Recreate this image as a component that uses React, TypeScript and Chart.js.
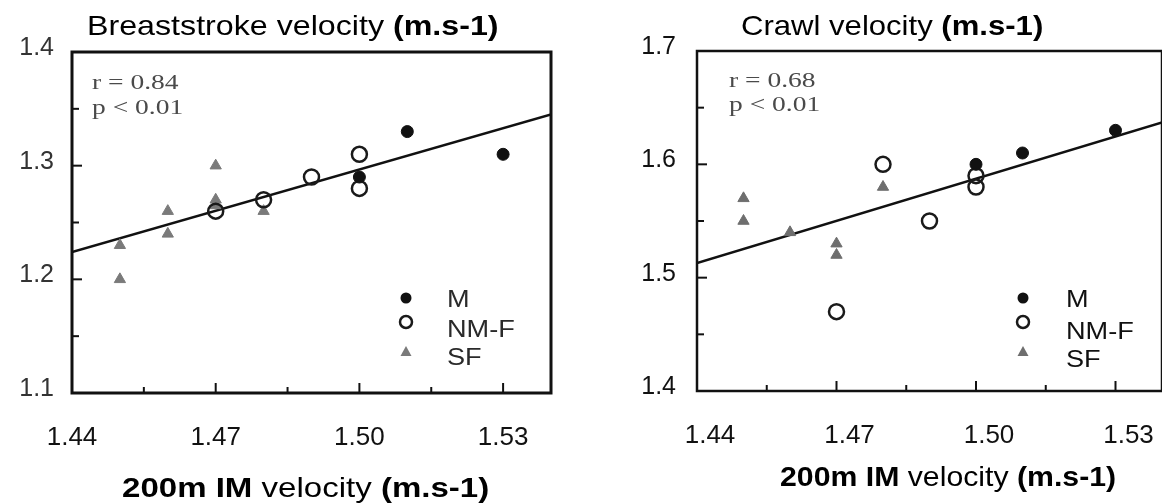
import React, { useEffect, useRef } from "react";
import { Chart, registerables } from "chart.js";

Chart.register(...registerables);

// ---------------- data ----------------
const X_TICKS = [1.44, 1.47, 1.5, 1.53];
const X_MINOR = [1.455, 1.485, 1.515];

// Breaststroke panel
const BR_Y_TICKS = [1.1, 1.2, 1.3, 1.4];
const BR_Y_MINOR = [1.15, 1.25, 1.35];
const BR_M_X = [1.5, 1.51, 1.53];
const BR_M_Y = [1.29, 1.33, 1.31];
const BR_NMF_X = [1.47, 1.48, 1.49, 1.5, 1.5];
const BR_NMF_Y = [1.26, 1.27, 1.29, 1.31, 1.28];
const BR_SF_X = [1.45, 1.45, 1.46, 1.46, 1.47, 1.47, 1.47, 1.48];
const BR_SF_Y = [1.23, 1.2, 1.26, 1.24, 1.3, 1.27, 1.265, 1.26];
const BR_FIT_X = [1.44, 1.54];
const BR_FIT_Y = [1.224, 1.345];
const BR_STATS = ["r = 0.84", "p < 0.01"];

// Crawl panel
const CR_Y_TICKS = [1.4, 1.5, 1.6, 1.7];
const CR_Y_MINOR = [1.45, 1.55, 1.65];
const CR_M_X = [1.5, 1.51, 1.53];
const CR_M_Y = [1.6, 1.61, 1.63];
const CR_NMF_X = [1.47, 1.48, 1.49, 1.5, 1.5];
const CR_NMF_Y = [1.47, 1.6, 1.55, 1.59, 1.58];
const CR_SF_X = [1.45, 1.45, 1.46, 1.47, 1.47, 1.48];
const CR_SF_Y = [1.57, 1.55, 1.54, 1.53, 1.52, 1.58];
const CR_FIT_X = [1.44, 1.54];
const CR_FIT_Y = [1.513, 1.637];
const CR_STATS = ["r = 0.68", "p < 0.01"];

const LEGEND_LABELS = ["M", "NM-F", "SF"];

// ---------------- helpers ----------------
type Part = { t: string; b?: boolean };
const SANS = "'Liberation Sans', Arial, Helvetica, sans-serif";
const SERIF = "'Liberation Serif', 'Times New Roman', serif";

const toPts = (xs: number[], ys: number[]) => xs.map((x, i) => ({ x, y: ys[i] }));

function drawParts(
  ctx: CanvasRenderingContext2D,
  parts: Part[],
  x: number,
  y: number,
  size: number,
  sx: number,
  color: string,
  family: string
) {
  ctx.save();
  ctx.translate(x, y);
  ctx.scale(sx, 1);
  ctx.fillStyle = color;
  ctx.textAlign = "left";
  ctx.textBaseline = "alphabetic";
  let cx = 0;
  for (const p of parts) {
    ctx.font = `${p.b ? "bold " : ""}${size}px ${family}`;
    ctx.fillText(p.t, cx, 0);
    cx += ctx.measureText(p.t).width;
  }
  ctx.restore();
}

interface PanelCfg {
  left: number;
  width: number;
  padTop: number;
  padRight: number;
  yAxisW: number;
  xAxisH: number;
  yTicks: number[];
  yMinor: number[];
  m: [number[], number[]];
  nmf: [number[], number[]];
  sf: [number[], number[]];
  fit: [number[], number[]];
  stats: string[];
  statsX: number;
  statsY: number[];
  title: Part[];
  titleX: number;
  titleY: number;
  titleSx: number;
  xlabel: Part[];
  xlabelX: number;
  xlabelY: number;
  xlabelSx: number;
  legMarkX: number;
  legMarkY: number[];
  legTextX: number;
  legTextY: number[];
  legColor: string;
  yLabelColor: string;
  yPad: number;
  xLabelOffset: number;
  frameW: number;
  sfColor: string;
}

const LEFT: PanelCfg = {
  left: 0,
  width: 580,
  padTop: 52,
  padRight: 29,
  yAxisW: 72,
  xAxisH: 111,
  yTicks: BR_Y_TICKS,
  yMinor: BR_Y_MINOR,
  m: [BR_M_X, BR_M_Y],
  nmf: [BR_NMF_X, BR_NMF_Y],
  sf: [BR_SF_X, BR_SF_Y],
  fit: [BR_FIT_X, BR_FIT_Y],
  stats: BR_STATS,
  statsX: 92,
  statsY: [89, 114],
  title: [{ t: "Breaststroke velocity " }, { t: "(m.s-1)", b: true }],
  titleX: 87,
  titleY: 35,
  titleSx: 1.15,
  xlabel: [{ t: "200m ", b: true }, { t: "IM", b: true }, { t: " velocity " }, { t: "(m.s-1)", b: true }],
  xlabelX: 122,
  xlabelY: 497,
  xlabelSx: 1.18,
  legMarkX: 406,
  legMarkY: [298, 322, 352],
  legTextX: 447,
  legTextY: [307, 337, 365],
  legColor: "#2a2a2a",
  yLabelColor: "#333",
  yPad: 18,
  xLabelOffset: 0,
  frameW: 3,
  sfColor: "#7a7a7a",
};

const RIGHT: PanelCfg = {
  left: 600,
  width: 572,
  padTop: 51,
  padRight: 5,
  yAxisW: 97,
  xAxisH: 113,
  yTicks: CR_Y_TICKS,
  yMinor: CR_Y_MINOR,
  m: [CR_M_X, CR_M_Y],
  nmf: [CR_NMF_X, CR_NMF_Y],
  sf: [CR_SF_X, CR_SF_Y],
  fit: [CR_FIT_X, CR_FIT_Y],
  stats: CR_STATS,
  statsX: 129,
  statsY: [87, 111],
  title: [{ t: "Crawl velocity " }, { t: "(m.s-1)", b: true }],
  titleX: 141,
  titleY: 35,
  titleSx: 1.11,
  xlabel: [{ t: "200m ", b: true }, { t: "IM", b: true }, { t: " velocity " }, { t: "(m.s-1)", b: true }],
  xlabelX: 180,
  xlabelY: 486,
  xlabelSx: 1.08,
  legMarkX: 423,
  legMarkY: [298, 322, 352],
  legTextX: 466,
  legTextY: [307, 339, 367],
  legColor: "#111",
  yLabelColor: "#111",
  yPad: 21,
  xLabelOffset: 13,
  frameW: 2.5,
  sfColor: "#6e6e6e",
};

function Panel({ cfg }: { cfg: PanelCfg }) {
  const ref = useRef<HTMLCanvasElement>(null);

  useEffect(() => {
    const canvas = ref.current;
    if (!canvas) return;

    const decor = {
      id: "decor",
      afterDraw(chart: any) {
        const ctx: CanvasRenderingContext2D = chart.ctx;
        const a = chart.chartArea;
        const xs = chart.scales.x;
        const ys = chart.scales.y;
        ctx.save();
        // frame
        ctx.strokeStyle = "#111";
        ctx.lineWidth = cfg.frameW;
        ctx.strokeRect(a.left, a.top, a.right - a.left, a.bottom - a.top);
        // inward ticks
        ctx.lineWidth = 2;
        const yMaj = cfg.yTicks.slice(1, -1);
        yMaj.forEach((v) => {
          const p = ys.getPixelForValue(v);
          ctx.beginPath();
          ctx.moveTo(a.left, p);
          ctx.lineTo(a.left + 10, p);
          ctx.stroke();
        });
        cfg.yMinor.forEach((v) => {
          const p = ys.getPixelForValue(v);
          ctx.beginPath();
          ctx.moveTo(a.left, p);
          ctx.lineTo(a.left + 7, p);
          ctx.stroke();
        });
        X_TICKS.slice(1).forEach((v) => {
          const p = xs.getPixelForValue(v);
          ctx.beginPath();
          ctx.moveTo(p, a.bottom);
          ctx.lineTo(p, a.bottom - 10);
          ctx.stroke();
        });
        X_MINOR.forEach((v) => {
          const p = xs.getPixelForValue(v);
          ctx.beginPath();
          ctx.moveTo(p, a.bottom);
          ctx.lineTo(p, a.bottom - 6);
          ctx.stroke();
        });
        // stats
        cfg.stats.forEach((s, i) => {
          drawParts(ctx, [{ t: s }], cfg.statsX, cfg.statsY[i], 22, 1.25, "#4a4a4a", SERIF);
        });
        // legend markers
        const mx = cfg.legMarkX;
        ctx.fillStyle = "#111";
        ctx.beginPath();
        ctx.arc(mx, cfg.legMarkY[0], 5.5, 0, Math.PI * 2);
        ctx.fill();
        ctx.strokeStyle = "#1a1a1a";
        ctx.lineWidth = 2.5;
        ctx.beginPath();
        ctx.arc(mx, cfg.legMarkY[1], 6, 0, Math.PI * 2);
        ctx.stroke();
        ctx.fillStyle = cfg.sfColor;
        ctx.beginPath();
        const ty = cfg.legMarkY[2];
        ctx.moveTo(mx, ty - 6);
        ctx.lineTo(mx + 5.5, ty + 4);
        ctx.lineTo(mx - 5.5, ty + 4);
        ctx.closePath();
        ctx.fill();
        // legend text
        LEGEND_LABELS.forEach((l, i) => {
          drawParts(ctx, [{ t: l }], cfg.legTextX, cfg.legTextY[i], 23, 1.18, cfg.legColor, SANS);
        });
        // title and x label
        drawParts(ctx, cfg.title, cfg.titleX, cfg.titleY, 28, cfg.titleSx, "#000", SANS);
        drawParts(ctx, cfg.xlabel, cfg.xlabelX, cfg.xlabelY, 28, cfg.xlabelSx, "#000", SANS);
        ctx.restore();
      },
    };

    const chart = new Chart(canvas, {
      type: "scatter",
      data: {
        datasets: [
          {
            label: "M",
            data: toPts(cfg.m[0], cfg.m[1]),
            pointStyle: "circle",
            pointRadius: 6,
            backgroundColor: "#111",
            borderColor: "#111",
            borderWidth: 1,
          },
          {
            label: "NM-F",
            data: toPts(cfg.nmf[0], cfg.nmf[1]),
            pointStyle: "circle",
            pointRadius: 7.5,
            backgroundColor: "rgba(255,255,255,0)",
            borderColor: "#1a1a1a",
            borderWidth: 2.5,
          },
          {
            label: "SF",
            data: toPts(cfg.sf[0], cfg.sf[1]),
            pointStyle: "triangle",
            pointRadius: 6.5,
            backgroundColor: cfg.sfColor,
            borderColor: cfg.sfColor,
            borderWidth: 1,
          },
          {
            label: "fit",
            data: toPts(cfg.fit[0], cfg.fit[1]),
            showLine: true,
            pointRadius: 0,
            borderColor: "#111",
            borderWidth: 2.5,
            backgroundColor: "#111",
          },
        ],
      },
      options: {
        responsive: false,
        animation: false,
        events: [],
        layout: { padding: { top: cfg.padTop, right: cfg.padRight, left: 0, bottom: 0 } },
        plugins: { legend: { display: false }, tooltip: { enabled: false }, title: { display: false } },
        scales: {
          x: {
            type: "linear",
            min: 1.44,
            max: 1.54,
            afterFit: (s: any) => {
              s.height = cfg.xAxisH;
            },
            afterBuildTicks: (s: any) => {
              s.ticks = X_TICKS.map((v) => ({ value: v }));
            },
            grid: { display: false, drawTicks: false },
            border: { display: false },
            ticks: {
              padding: 29,
              labelOffset: cfg.xLabelOffset,
              color: "#111",
              font: { family: SANS, size: 26 },
              callback: (v: any) => Number(v).toFixed(2),
              maxRotation: 0,
              autoSkip: false,
            },
          },
          y: {
            type: "linear",
            min: cfg.yTicks[0],
            max: cfg.yTicks[cfg.yTicks.length - 1],
            afterFit: (s: any) => {
              s.width = cfg.yAxisW;
            },
            afterBuildTicks: (s: any) => {
              s.ticks = cfg.yTicks.map((v) => ({ value: v }));
            },
            grid: { display: false, drawTicks: false },
            border: { display: false },
            ticks: {
              padding: cfg.yPad,
              labelOffset: -4,
              color: cfg.yLabelColor,
              font: { family: SANS, size: 25 },
              callback: (v: any) => Number(v).toFixed(1),
              autoSkip: false,
            },
          },
        },
      },
      plugins: [decor],
    });

    return () => chart.destroy();
  }, [cfg]);

  return (
    <div style={{ position: "absolute", left: cfg.left, top: 0, width: cfg.width, height: 504 }}>
      <canvas ref={ref} width={cfg.width} height={504} style={{ width: cfg.width, height: 504, display: "block" }} />
    </div>
  );
}

export default function App() {
  useEffect(() => {
    document.body.style.margin = "0";
  }, []);
  return (
    <div
      style={{
        position: "fixed",
        left: 0,
        top: 0,
        width: 1162,
        height: 504,
        overflow: "hidden",
        background: "#fff",
      }}
    >
      <Panel cfg={LEFT} />
      <Panel cfg={RIGHT} />
    </div>
  );
}
